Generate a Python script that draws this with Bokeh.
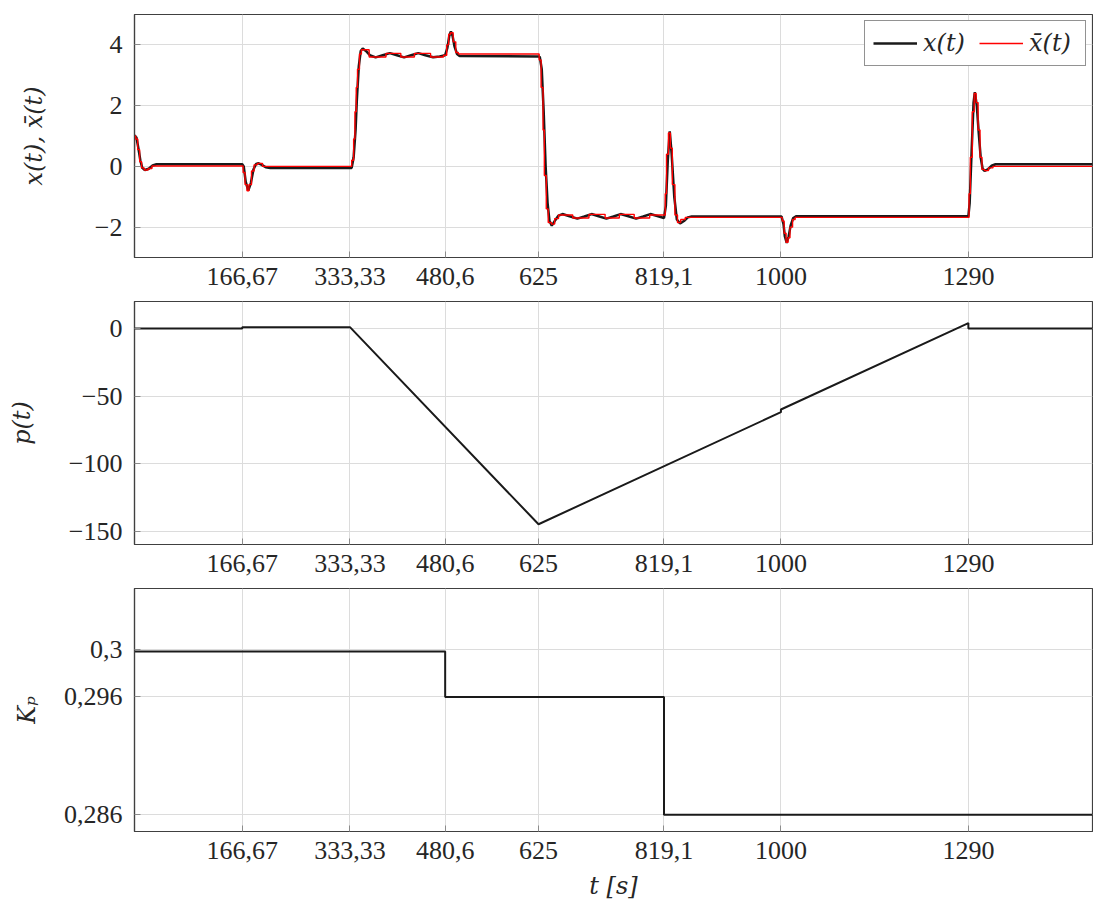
from bokeh.plotting import figure
from bokeh.layouts import column
from bokeh.models import Range1d, FixedTicker, Legend, LegendItem
from bokeh.embed import file_html
from bokeh.resources import INLINE

# ---------------- data ----------------
x_ticks = [166.67, 333.33, 480.6, 625, 819.1, 1000, 1290]
x_tick_labels = ["166,67", "333,33", "480,6", "625", "819,1", "1000", "1290"]
t_end = 1482

# x(t) (black)
t_x = [0, 3, 6, 9, 12, 16, 22, 28, 34,
       166.67, 169, 172, 176, 180, 184, 188, 192, 197, 203, 210,
       336, 339, 342, 344, 347, 350, 353, 358, 364, 373, 384, 395, 406, 417,
       428, 439, 450, 462, 472, 480.6, 484, 487, 489.5, 492, 495, 499, 503,
       625, 627, 630, 633, 636, 639, 642, 645.5, 650, 656, 662, 673, 685, 696,
       707, 718, 730, 741, 752, 764, 776, 787, 798, 810, 819.1, 822, 825, 828,
       831, 835, 839, 844, 850, 856, 862,
       1001, 1004, 1006, 1009, 1012, 1015, 1019, 1024,
       1290, 1292, 1295, 1298, 1300, 1303, 1306, 1309, 1312, 1315, 1320, 1326,
       1332, 1482]
x_vals = [1.02, 0.95, 0.6, 0.2, -0.05, -0.12, -0.08, 0.03, 0.07,
          0.07, 0.0, -0.5, -0.8, -0.55, -0.1, 0.08, 0.1, 0.05, -0.03, -0.05,
          -0.05, 0.3, 1.2, 2.2, 3.3, 3.8, 3.88, 3.8, 3.66, 3.59, 3.66, 3.73, 3.66, 3.59,
          3.66, 3.73, 3.66, 3.59, 3.62, 3.66, 3.9, 4.3, 4.44, 4.3, 3.95, 3.7, 3.63,
          3.62, 3.6, 3.2, 1.8, 0.0, -1.2, -1.8, -1.95, -1.8, -1.62, -1.57, -1.64, -1.72, -1.65,
          -1.57, -1.64, -1.72, -1.65, -1.57, -1.64, -1.72, -1.65, -1.57, -1.64, -1.7, -1.3, 0.2, 1.15,
          0.4, -1.0, -1.75, -1.88, -1.8, -1.68, -1.65,
          -1.65, -1.9, -2.3, -2.52, -2.3, -1.95, -1.7, -1.64,
          -1.64, -1.2, 0.5, 2.1, 2.44, 2.0, 1.1, 0.3, -0.08, -0.15, -0.1, 0.02,
          0.07, 0.07]

# x-bar(t) (red, piecewise constant)
t_xbar = [0, 0, 2, 5, 8, 11, 15, 21, 27,
          168, 171, 174, 177, 181, 185, 190, 198,
          336, 339, 341, 343, 345, 348, 351, 363, 389, 412, 433, 458, 478,
          483, 486, 489, 493, 497, 501,
          626, 629, 632, 634, 637, 640, 645, 650, 656, 678, 703, 728, 750, 773, 797,
          821, 823, 826, 829, 832, 836, 840, 845, 852,
          1002, 1005, 1008, 1011, 1014, 1018, 1022,
          1291, 1293, 1296, 1299, 1302, 1305, 1308, 1311, 1315, 1321, 1328, t_end]
xbar_vals = [0.1, 1.0, 0.9, 0.55, 0.15, -0.05, -0.12, -0.07, 0.01,
             -0.2, -0.6, -0.8, -0.6, -0.15, 0.05, 0.1, 0.0,
             0.2, 0.9, 1.8, 2.6, 3.2, 3.7, 3.84, 3.6, 3.72, 3.6, 3.72, 3.6, 3.66,
             4.0, 4.35, 4.4, 4.1, 3.75, 3.7,
             3.5, 2.6, 1.2, -0.3, -1.4, -1.85, -1.9, -1.72, -1.6, -1.7, -1.58, -1.7, -1.58, -1.7, -1.6,
             -0.9, 0.4, 1.1, 0.6, -0.6, -1.6, -1.85, -1.75, -1.68,
             -1.8, -2.2, -2.5, -2.35, -2.0, -1.75, -1.68,
             -0.9, 0.3, 1.8, 2.4, 2.1, 1.2, 0.3, -0.1, -0.14, -0.05, 0.0, 0.0]

# p(t)
t_p = [0, 166.67, 166.67, 333.33, 625, 1000, 1000, 1290, 1290, t_end]
p_vals = [0, 0, 1, 1, -145, -62, -60, 4, 0, 0]

# K_p
t_kp = [0, 480.6, 819.1, t_end]
kp_vals = [0.29985, 0.296, 0.286, 0.286]

y1_ticks = [-2, 0, 2, 4]
y1_labels = ["\u22122", "0", "2", "4"]
y2_ticks = [-150, -100, -50, 0]
y2_labels = ["\u2212150", "\u2212100", "\u221250", "0"]
y3_ticks = [0.286, 0.296, 0.3]
y3_labels = ["0,286", "0,296", "0,3"]

# ---------------- styling helpers ----------------
FONT = "Liberation Serif"
IFONT = "DejaVu Serif"
FRAME_W, FRAME_H = 958, 243


def make_fig(yr, yticks, ylabels, ylabel, label_standoff, top, bottom):
    p = figure(frame_width=FRAME_W, frame_height=FRAME_H,
               x_range=Range1d(0, t_end), y_range=Range1d(*yr),
               output_backend="svg", toolbar_location=None,
               min_border_left=134, min_border_right=1,
               min_border_top=top, min_border_bottom=bottom)
    p.xaxis.ticker = FixedTicker(ticks=x_ticks)
    p.xaxis.major_label_overrides = dict(zip(x_ticks, x_tick_labels))
    p.yaxis.ticker = FixedTicker(ticks=yticks)
    p.yaxis.major_label_overrides = dict(zip(yticks, ylabels))
    p.yaxis.axis_label = ylabel
    p.yaxis.axis_label_standoff = label_standoff
    for ax in p.axis:
        ax.major_label_text_font = FONT
        ax.major_label_text_font_size = "26px"
        ax.major_label_text_color = "#262626"
        ax.axis_label_text_font = IFONT
        ax.axis_label_text_font_size = "24px"
        ax.axis_label_text_font_style = "italic"
        ax.axis_label_text_color = "#262626"
        ax.axis_line_color = "#404040"
        ax.axis_line_width = 1.2
        ax.major_tick_in = 6
        ax.major_tick_out = 0
        ax.major_tick_line_color = "#8c8c8c"
        ax.minor_tick_line_color = None
    p.xaxis.major_label_standoff = 10
    p.yaxis.major_label_standoff = 12
    p.grid.grid_line_color = "#dcdcdc"
    p.grid.grid_line_width = 1
    p.outline_line_color = "#404040"
    p.outline_line_width = 1.2
    p.background_fill_color = "white"
    p.border_fill_color = "white"
    return p


p1 = make_fig((-3, 5), y1_ticks, y1_labels, "x(t), x\u0304(t)", 44, 14, 44)
r1 = p1.line(t_x, x_vals, line_color="#1a1a1a", line_width=2.5)
r2 = p1.step(t_xbar, xbar_vals, mode="after", line_color="#ff0000", line_width=1.4)
legend = Legend(items=[LegendItem(label="x(t)", renderers=[r1]),
                       LegendItem(label="x\u0304(t)", renderers=[r2])],
                orientation="horizontal", location="top_right",
                label_text_font=IFONT, label_text_font_style="italic",
                label_text_font_size="24px", label_text_color="#262626",
                glyph_width=44, glyph_height=20, label_width=48,
                label_standoff=6, spacing=8, padding=8, margin=6,
                border_line_color="#262626", border_line_width=1.2,
                background_fill_alpha=1.0)
p1.add_layout(legend)

p2 = make_fig((-160, 20), y2_ticks, y2_labels, "p(t)", 30, 0, 44)
p2.line(t_p, p_vals, line_color="#1a1a1a", line_width=2)

p3 = make_fig((0.28458, 0.3052), y3_ticks, y3_labels, "K\u209a", 20, 0, 66)
p3.step(t_kp, kp_vals, mode="after", line_color="#1a1a1a", line_width=2)
p3.xaxis.axis_label = "t [s]"
p3.xaxis.axis_label_standoff = 10

layout = column(p1, p2, p3, spacing=0)

with open("out.html", "w") as f:
    f.write(file_html(layout, INLINE))
